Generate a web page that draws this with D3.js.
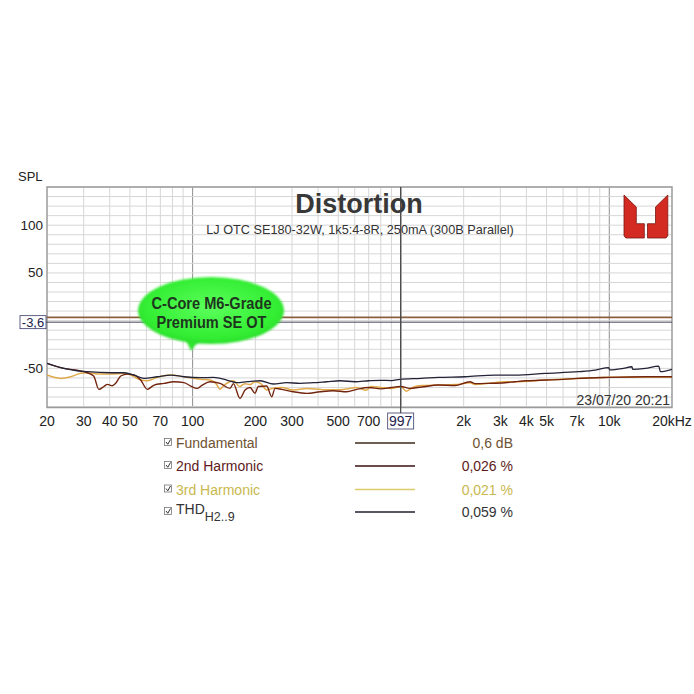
<!DOCTYPE html>
<html><head><meta charset="utf-8">
<script src="https://cdn.jsdelivr.net/npm/d3@7"></script>
<style>html,body{margin:0;padding:0;background:#fff;}svg{display:block;font-family:"Liberation Sans",Arial,sans-serif;}</style>
</head><body>
<script>
// ---------- data ----------
const xTickValues = [20,30,40,50,70,100,200,300,500,700,2000,3000,4000,5000,7000,10000,20000];
const xTickLabels = ['20','30','40','50','70','100','200','300','500','700','2k','3k','4k','5k','7k','10k','20kHz'];
const yTickValues = [100,50,-50];
const cursorFreq = 997;
const cursorLevel = -1.6;
const cursorLabel = '-3,6';

const fundFreq = [20,20000];
const fundamental = [3.4,3.4];

const thdFreq = [20,24.1,27.9,31.2,40.4,46.9,52.3,58.4,67.7,78.5,90.9,109,126,146,163,183,211,244,283,328,380,440,510,602,700,800,900,989,1250,1511,2030,2829,3527,4933,7131,8571,9934,10050,11508,12853,12950,14894,17271,17600,20000];
const thd = [-44.7,-50,-52.5,-53.5,-54.6,-54.6,-57,-60.5,-58.8,-57,-58.8,-59.8,-59.4,-62.2,-65,-64,-63,-66.4,-65,-65.7,-65,-64,-63,-64,-63,-62.5,-62.8,-61.5,-60.5,-59.4,-58.8,-57,-57,-55.2,-53.5,-51.8,-49.2,-51.6,-50.3,-48.3,-51,-50,-47.6,-53.5,-51];

const h2Freq = [20,24.1,27.9,31.2,33.5,35.5,37.5,39.0,41.2,42.7,45.2,48.6,52.3,56.3,60.6,65.3,72.9,81.4,90.9,97.9,105.3,111.3,121.2,135.4,151.2,156.9,168.8,178.5,188.8,199.3,206.6,226.7,239.7,248.6,267.6,304,353,409,473,549,613,700,800,900,1000,1100,1258,1511,1818,2146,2267,2627,3158,3527,4000,5000,6000,7000,10000,15000,20000];
const h2 = [-44.7,-50,-52,-54.6,-58,-72,-69,-66.8,-68.2,-65.7,-58,-56,-57,-62.2,-72,-67.5,-65.7,-64,-64.9,-68.5,-71,-67.5,-64,-65.7,-71,-66,-81.4,-72.7,-70,-76,-69,-68.5,-79.7,-71,-72,-74.5,-76.2,-74.5,-73.4,-74.5,-72,-70,-71.5,-70,-69,-71,-69.5,-67.5,-68,-64,-66,-65.7,-65,-64,-63,-62.2,-61.5,-60.5,-59.4,-58.8,-58.8];

const h3Freq = [20,23.3,26,29,31.2,36.2,40.4,46.9,50.4,56.3,60.6,67.7,78.5,90.9,109,121,131,135,141,151,157,168,178,189,199,212,227,240,268,304,353,409,473,549,613,680,720,800,900,1000,1060,1150,1258,1511,1818,2146,2267,2627,3158,3527,4933,7131,10000,15000,20000];
const h3 = [-57,-60.5,-58.8,-55.2,-54.6,-56,-56,-55.2,-57,-62.2,-63,-59.4,-57,-58.8,-61.5,-62.2,-67.5,-72,-68,-64,-63,-69,-66,-67,-64,-65.7,-72.7,-71,-70,-72.7,-71,-72,-72.5,-71.5,-70,-73,-69,-70,-71,-69,-74,-69.5,-68,-67.5,-67,-65,-67,-65.7,-64,-64,-62.2,-60.5,-59.4,-59,-59];

const legendNames = ['Fundamental','2nd Harmonic','3rd Harmonic','THD'];
const legendValues = ['0,6 dB','0,026 %','0,021 %','0,059 %'];
const legendTextColors = ['#6e5232','#5e1a1a','#c9b84e','#333333'];
const legendLineColors = ['#3e2a1c','#3a1010','#dccb6a','#202030'];
const seriesColors = {fund:'#8b5e3c', h2:'#72240f', h3:'#e0aa4a', thd:'#232338'};

// ---------- chart ----------
const W=694,H=694;
const L=47,R=672,T=187,B=407.5;
const svg = d3.select('body').append('svg').attr('width',W).attr('height',H);
svg.append('rect').attr('width',W).attr('height',H).attr('fill','#fff');

const x = d3.scaleLog().domain([20,20000]).range([L,R]);
const y = d3.scaleLinear().domain([-91,140]).range([B,T]);

const defs = svg.append('defs');
defs.append('clipPath').attr('id','plotclip').append('rect').attr('x',L).attr('y',T).attr('width',R-L).attr('height',B-T);
const rg = defs.append('radialGradient').attr('id','bubg').attr('cx','50%').attr('cy','45%').attr('r','60%');
rg.append('stop').attr('offset','0%').attr('stop-color','#5cff5c');
rg.append('stop').attr('offset','75%').attr('stop-color','#33ee33');
rg.append('stop').attr('offset','100%').attr('stop-color','#26d626');
defs.append('filter').attr('id','soft').append('feGaussianBlur').attr('stdDeviation',1.1);

// grid
const grid = svg.append('g');
const minorX = [];
[10,100,1000,10000].forEach(d=>{for(let k=1;k<10;k++){const f=d*k; if(f>20&&f<20000) minorX.push(f);}});
grid.selectAll('.vx').data(minorX).enter().append('line')
  .attr('x1',d=>x(d)).attr('x2',d=>x(d)).attr('y1',T).attr('y2',B)
  .attr('stroke',d=>[100,1000,10000].includes(d)?'#8f8f8f':'#d6d6d6').attr('stroke-width',1);
grid.selectAll('.hy').data(d3.range(-90,141,10)).enter().append('line')
  .attr('x1',L).attr('x2',R).attr('y1',d=>y(d)).attr('y2',d=>y(d))
  .attr('stroke','#d6d6d6').attr('stroke-width',1);

// frame
svg.append('rect').attr('x',L).attr('y',T).attr('width',R-L).attr('height',B-T)
  .attr('fill','none').attr('stroke','#9a9a9a').attr('stroke-width',1.5);

// title
svg.append('text').attr('x',359).attr('y',213).attr('text-anchor','middle')
  .attr('font-size',27).attr('font-weight','bold').attr('fill','#383838').text('Distortion');
svg.append('text').attr('x',360).attr('y',234).attr('text-anchor','middle')
  .attr('font-size',12.7).attr('fill','#333').text('LJ OTC SE180-32W, 1k5:4-8R, 250mA (300B Parallel)');

// logo
const logo = svg.append('g').attr('fill','#d32a22').attr('stroke','#7a1812').attr('stroke-width',0.8).attr('stroke-linejoin','round');
logo.append('path').attr('d','M624,195 L636.3,207 L636.3,223.7 L644.3,223.7 L644.3,238 L625.8,238 L624,235.8 Z');
logo.append('path').attr('d','M667.8,195 L655.5,207 L655.5,223.7 L647.5,223.7 L647.5,238 L666,238 L667.8,235.8 Z');

// y labels
svg.append('text').attr('x',18).attr('y',181).attr('font-size',13).attr('fill','#222').text('SPL');
svg.selectAll('.yt').data(yTickValues).enter().append('text')
  .attr('x',43).attr('y',d=>y(d)+4.5).attr('text-anchor','end').attr('font-size',13.5).attr('fill','#222').text(d=>d);

// x labels
svg.selectAll('.xt').data(xTickValues).enter().append('text')
  .attr('x',(d,i)=>x(d)).attr('y',426).attr('text-anchor','middle').attr('font-size',14).attr('fill','#222')
  .text((d,i)=>xTickLabels[i]);

// curves
const plot = svg.append('g').attr('clip-path','url(#plotclip)');
const line = d3.line().x(d=>x(d[0])).y(d=>y(d[1])).curve(d3.curveMonotoneX);
const zip = (a,b)=>a.map((v,i)=>[v,b[i]]);
plot.append('path').attr('d',line(zip(fundFreq,fundamental))).attr('fill','none').attr('stroke',seriesColors.fund).attr('stroke-width',1.6);
plot.append('path').attr('d',line(zip(h3Freq,h3))).attr('fill','none').attr('stroke',seriesColors.h3).attr('stroke-width',1.5);
plot.append('path').attr('d',line(zip(h2Freq,h2))).attr('fill','none').attr('stroke',seriesColors.h2).attr('stroke-width',1.4);
plot.append('path').attr('d',line(zip(thdFreq,thd))).attr('fill','none').attr('stroke',seriesColors.thd).attr('stroke-width',1.3);

// cursors
svg.append('line').attr('x1',46).attr('x2',R).attr('y1',y(cursorLevel)).attr('y2',y(cursorLevel)).attr('stroke','#444455').attr('stroke-width',1);
svg.append('line').attr('x1',x(cursorFreq)).attr('x2',x(cursorFreq)).attr('y1',T).attr('y2',413).attr('stroke','#444').attr('stroke-width',1.2);
svg.append('rect').attr('x',20).attr('y',y(cursorLevel)-6.5).attr('width',26).attr('height',13).attr('fill','#fff').attr('stroke','#3a3a6a').attr('stroke-width',0.8);
svg.append('text').attr('x',33).attr('y',y(cursorLevel)+4.5).attr('text-anchor','middle').attr('font-size',13).attr('fill','#22224a').text(cursorLabel);
svg.append('rect').attr('x',x(cursorFreq)-13).attr('y',413).attr('width',26).attr('height',16).attr('fill','#fff').attr('stroke','#3a3a6a').attr('stroke-width',0.8);
svg.append('text').attr('x',x(cursorFreq)).attr('y',426).attr('text-anchor','middle').attr('font-size',14).attr('fill','#22224a').text(cursorFreq);

// date
svg.append('text').attr('x',670).attr('y',404.5).attr('text-anchor','end').attr('font-size',14).attr('fill','#333').text('23/07/20 20:21');

// bubble
const bub = svg.append('g');
bub.append('path').attr('d','M184,336 L191,351 L201,338 Z').attr('fill','#30e430').attr('filter','url(#soft)');
bub.append('ellipse').attr('cx',211).attr('cy',310.5).attr('rx',73).attr('ry',33.5).attr('fill','url(#bubg)').attr('filter','url(#soft)');
bub.append('text').attr('x',211.5).attr('y',308.5).attr('text-anchor','middle').attr('font-size',17).attr('font-weight','bold').attr('fill','#1d361d').attr('textLength',120).attr('lengthAdjust','spacingAndGlyphs').text('C-Core M6-Grade');
bub.append('text').attr('x',211.5).attr('y',328).attr('text-anchor','middle').attr('font-size',17).attr('font-weight','bold').attr('fill','#1d361d').attr('textLength',110).attr('lengthAdjust','spacingAndGlyphs').text('Premium SE OT');

// legend
const rowsY = [443,466,489.5,512];
const lg = svg.append('g');
legendNames.forEach((n,i)=>{
  const cy = rowsY[i];
  lg.append('rect').attr('x',164.5).attr('y',cy-4.5).attr('width',7).attr('height',7).attr('fill','#fff').attr('stroke','#777').attr('stroke-width',0.8);
  lg.append('path').attr('d',`M166,${cy-1} L167.8,${cy+1.3} L170.5,${cy-3.5}`).attr('fill','none').attr('stroke','#333').attr('stroke-width',1);
  const t = lg.append('text').attr('x',176).attr('y',cy+5).attr('font-size',14).attr('fill',legendTextColors[i]);
  t.append('tspan').text(n);
  if(n==='THD'){ t.attr('y',cy+2); t.append('tspan').attr('dy',7).attr('font-size',12.5).text('H2..9'); }
  lg.append('line').attr('x1',355).attr('x2',415).attr('y1',cy).attr('y2',cy).attr('stroke',legendLineColors[i]).attr('stroke-width',1.3);
  lg.append('text').attr('x',513).attr('y',cy+5).attr('text-anchor','end').attr('font-size',14).attr('fill',legendTextColors[i]).text(legendValues[i]);
});
</script>
</body></html>
